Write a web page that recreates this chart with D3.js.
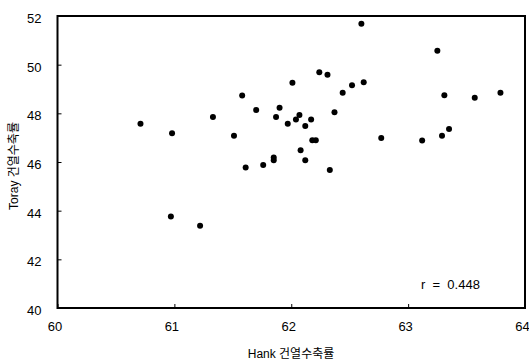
<!DOCTYPE html>
<html>
<head>
<meta charset="utf-8">
<script src="https://cdnjs.cloudflare.com/ajax/libs/d3/7.8.5/d3.min.js"></script>
<style>
  body { margin: 0; background: #fff; }
  text { font-family: "Liberation Sans", Arial, "Noto Sans CJK KR", sans-serif; fill: #000; }
</style>
</head>
<body>
<div id="container"></div>
<script>
var width = 529;
var height = 363;
var margin = {top: 16, right: 4, bottom: 55, left: 57.5};

// Hank vs Toray dry heat shrinkage
var hankValues = [60.71, 60.98, 60.97, 61.22, 61.33, 61.51, 61.58, 61.61, 61.70, 61.76,
                  61.85, 61.85, 61.87, 61.90, 61.97, 62.01, 62.04, 62.07, 62.08, 62.12,
                  62.12, 62.17, 62.18, 62.21, 62.24, 62.31, 62.33, 62.37, 62.44, 62.52,
                  62.60, 62.62, 62.77, 63.12, 63.25, 63.29, 63.31, 63.35, 63.57, 63.79];
var torayValues = [47.57, 47.18, 43.76, 43.38, 47.85, 47.08, 48.73, 45.77, 48.14, 45.88,
                   46.18, 46.07, 47.85, 48.23, 47.57, 49.26, 47.75, 47.93, 46.48, 47.48,
                   46.07, 47.75, 46.89, 46.89, 49.69, 49.59, 45.67, 48.04, 48.85, 49.15,
                   51.68, 49.28, 46.99, 46.88, 50.57, 47.08, 48.74, 47.36, 48.64, 48.85];
var xTicks = [60, 61, 62, 63, 64];
var yTicks = [40, 42, 44, 46, 48, 50, 52];
var xTitle = "Hank 건열수축률";
var yTitle = "Toray 건열수축률";
var note = "r  =  0.448";

var points = hankValues.map((d, i) => ({x: d, y: torayValues[i]}));

const SVG = d3.select("#container")
              .append("svg")
              .attr("width", width)
              .attr("height", height);

const x = d3.scaleLinear().domain([60, 64]).range([margin.left, width - margin.right]);
const y = d3.scaleLinear().domain([40, 52]).range([height - margin.bottom, margin.top]);

// inward ticks
SVG.append("g")
   .attr("transform", `translate(0,${y(40)})`)
   .call(d3.axisBottom(x).tickValues(xTicks).tickSize(-4).tickPadding(14).tickFormat(d3.format("d")))
   .call(g => g.select(".domain").remove())
   .call(g => g.selectAll("text").attr("dx", -3).style("font-size", "13px"));

SVG.append("g")
   .attr("transform", `translate(${x(60)},0)`)
   .call(d3.axisLeft(y).tickValues(yTicks).tickSize(-4).tickPadding(16).tickFormat(d3.format("d")))
   .call(g => g.select(".domain").remove())
   .call(g => g.selectAll("text").attr("dy", "0.5em").style("font-size", "13px"));

SVG.append("rect")
   .attr("x", x(60))
   .attr("y", y(52))
   .attr("width", x(64) - x(60))
   .attr("height", y(40) - y(52))
   .attr("fill", "none")
   .attr("stroke", "#000")
   .attr("stroke-width", 2);

SVG.selectAll("circle")
   .data(points)
   .enter()
   .append("circle")
   .attr("cx", (d) => x(d.x))
   .attr("cy", (d) => y(d.y))
   .attr("r", 3)
   .attr("fill", "#000");

SVG.append("text")
   .attr("x", 291)
   .attr("y", 358)
   .attr("text-anchor", "middle")
   .style("font-size", "12px")
   .text(xTitle);

SVG.append("text")
   .attr("transform", "translate(18,166) rotate(-90)")
   .attr("text-anchor", "middle")
   .style("font-size", "12px")
   .text(yTitle);

SVG.append("text")
   .attr("x", 421)
   .attr("y", 289)
   .style("font-size", "13px")
   .style("white-space", "pre")
   .text(note);
</script>
</body>
</html>
